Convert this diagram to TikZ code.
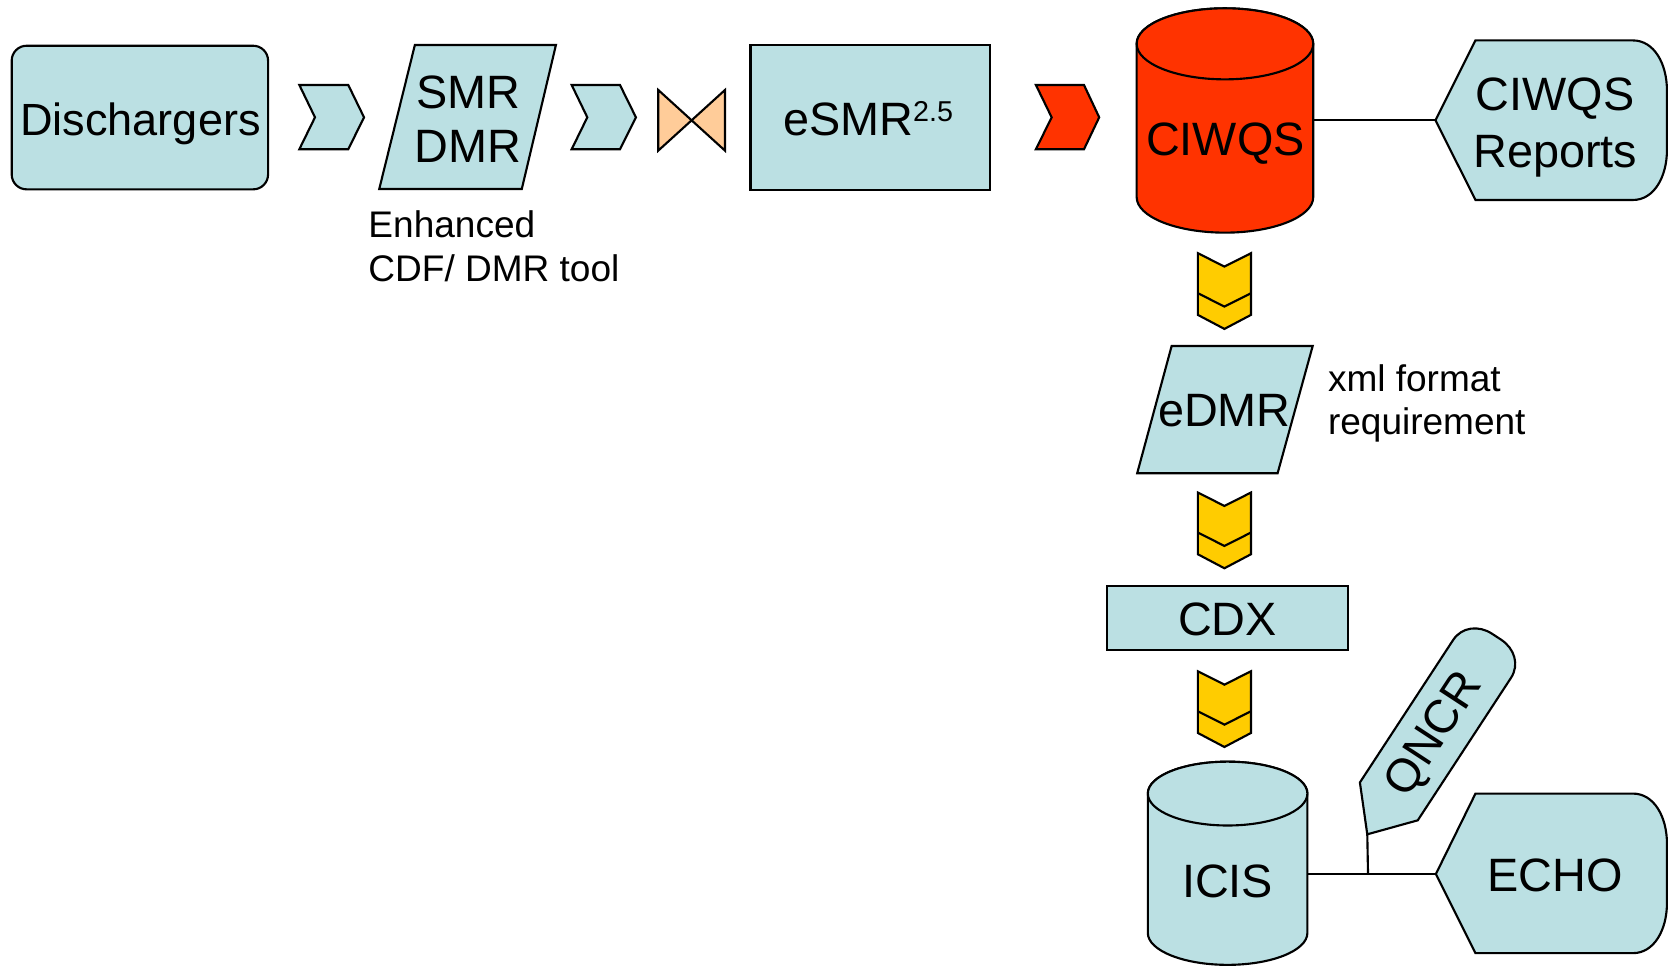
\documentclass[tikz,border=0pt]{standalone}
\usepackage{fontspec}
\setmainfont{Liberation Sans}

\definecolor{boxblue}{HTML}{BBE0E3}
\definecolor{dbred}{HTML}{FF3300}
\definecolor{chevyellow}{HTML}{FFCC00}
\definecolor{collpeach}{HTML}{FFCC99}

\begin{document}
\begin{tikzpicture}[x=0.5pt, y=-0.5pt,
  outline/.style={draw=black, line width=1pt, line join=miter},
  bluebox/.style={outline, fill=boxblue},
  bigtext/.style={font=\fontsize{22}{25}\selectfont, align=center, inner sep=0pt},
  smalltext/.style={font=\fontsize{17.4}{20.5}\selectfont, align=left, inner sep=0pt}]

\useasboundingbox (0,0) rectangle (1568,909);

% top row
\draw[bluebox, rounded corners=7pt] (11,43) rectangle (252,178);
\node[bigtext, anchor=base] (dischargers) at (132,127) {\fontsize{21.2}{25}\selectfont Dischargers};

\draw[bluebox] (281.4,79.9) -- (327.4,79.9) -- (342.2,110.3) -- (327.4,140.3) -- (281.4,140.3) -- (296.1,110.3) -- cycle;

\draw[bluebox] (390,42.3) -- (522.6,42.3) -- (490.5,177.7) -- (356.5,177.7) -- cycle;
\node[bigtext] (smr) at (440,112) {SMR\\DMR};
\node[smalltext, anchor=north west] (tool) at (346,198) {Enhanced\\CDF/ DMR tool};

\draw[bluebox] (537.4,79.9) -- (582.8,79.9) -- (597.8,110.3) -- (582.8,140.3) -- (537.4,140.3) -- (552.1,110.3) -- cycle;

\draw[outline, fill=collpeach] (618.8,84.6) -- (681.5,141.6) -- (681.5,84.6) -- (618.8,141.6) -- cycle;

\draw[bluebox] (705.5,42.5) rectangle (931,178.5);
\node[bigtext, anchor=base] (esmr) at (816,127.5) {eSMR\raisebox{6.5pt}{\fontsize{13.5}{14}\selectfont 2.5}};

\draw[outline, fill=dbred] (973.8,79.9) -- (1019,79.9) -- (1033.3,110.3) -- (1019,140.3) -- (973.8,140.3) -- (988.6,110.3) -- cycle;

% CIWQS database
\draw[outline, fill=dbred] (1068.5,41.2) -- (1068.5,185.3)
  arc[start angle=180, end angle=0, x radius=83, y radius=33.4] -- (1234.5,41.2)
  arc[start angle=0, end angle=-180, x radius=83, y radius=33.4] -- cycle;
\draw[outline, fill=dbred] (1151.5,41.2) ellipse[x radius=83, y radius=33.4];
\node[bigtext, anchor=base] (ciwqs) at (1152,146) {CIWQS};

\draw[bluebox] (1349.4,113) -- (1387,38) -- (1535,38) .. controls (1555,38) and (1567,60) .. (1567,85)
  -- (1567,141) .. controls (1567,166) and (1555,188) .. (1535,188) -- (1387,188) -- cycle;
\node[bigtext, font=\fontsize{22}{27}\selectfont] (reports) at (1462,120) {CIWQS\\Reports};

\coordinate (ciwqsR) at (1234.5,113);
\coordinate (reportsL) at (1349.4,113);
\draw[outline] (ciwqsR) -- (reportsL);

% yellow chevrons
\foreach \t in {238,463,631}
{
\draw[outline, fill=chevyellow, shift={(0,\t)}] (1126,0) -- (1151,12.6) -- (1176,0) -- (1176,58) -- (1151,71.2) -- (1126,58) -- cycle;
\draw[outline, shift={(0,\t)}] (1126,37.6) -- (1151,50.2) -- (1176,37.6);
}

% eDMR
\draw[bluebox] (1101.4,325.2) -- (1234,325.2) -- (1201,444.9) -- (1069,444.9) -- cycle;
\node[bigtext, anchor=base] (edmr) at (1151,401) {eDMR};
\node[smalltext, anchor=north west] (xml) at (1248,342) {xml format\\requirement};

% CDX
\draw[bluebox] (1041,550.5) rectangle (1267.4,611);
\node[bigtext, anchor=base] (cdx) at (1154,597) {CDX};

% ICIS database
\draw[bluebox] (1079,746) -- (1079,877)
  arc[start angle=180, end angle=0, x radius=75, y radius=30] -- (1229,746)
  arc[start angle=0, end angle=-180, x radius=75, y radius=30] -- cycle;
\draw[bluebox] (1154,746) ellipse[x radius=75, y radius=30];
\node[bigtext, anchor=base] (icis) at (1154,844) {ICIS};

\draw[bluebox] (1349.8,821.6) -- (1387,746) -- (1535,746) .. controls (1555,746) and (1567,768) .. (1567,793)
  -- (1567,849) .. controls (1567,874) and (1555,896) .. (1535,896) -- (1387,896) -- cycle;
\node[bigtext, anchor=base] (echo) at (1462,838) {ECHO};

% QNCR
\begin{scope}[shift={(1285.3,784.3)}, rotate=56.8]
\draw[bluebox] (0,0) -- (37,-32.5) -- (197,-32.5) .. controls (212,-32.5) and (222,-20) .. (222,-5)
  -- (222,5) .. controls (222,20) and (212,32.5) .. (197,32.5) -- (37,32.5) -- cycle;
\end{scope}
\node[bigtext, rotate=56.8] (qncr) at (1349,691) {QNCR};

\coordinate (icisR) at (1229,821.6);
\coordinate (echoL) at (1349.8,821.6);
\coordinate (junction) at (1286,821.6);
\coordinate (qncrTip) at (1285.3,784.3);
\draw[outline] (icisR) -- (echoL);
\draw[outline] (junction) -- (qncrTip);

\end{tikzpicture}
\end{document}
